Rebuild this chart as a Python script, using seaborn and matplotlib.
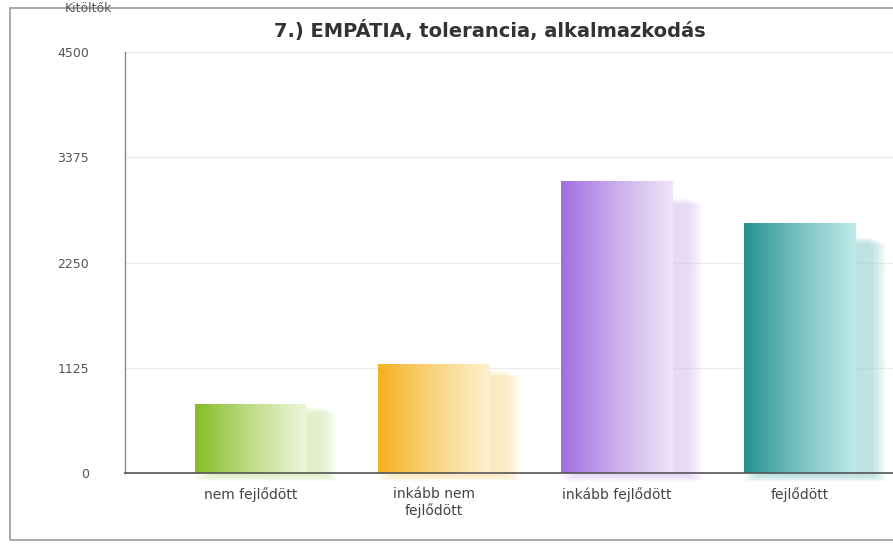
import numpy as np
import pandas as pd
import matplotlib
matplotlib.use("Agg")
import matplotlib.pyplot as plt
import matplotlib.patches as mpatches
from matplotlib.colors import LinearSegmentedColormap, to_rgb
import seaborn as sns

categories = ["nem fejlődött", "inkább nem\nfejlődött", "inkább fejlődött", "fejlődött"]
values = [740, 1165, 3120, 2670]
dark_colors = ["#86bc25", "#f4b020", "#a06ee0", "#259290"]
light_colors = ["#eef6dc", "#fdf2cf", "#efe4f8", "#bfeaea"]
yticks = [0, 1125, 2250, 3375, 4500]
title = "7.) EMPÁTIA, tolerancia, alkalmazkodás"
ylabel = "Kitöltők"

sns.set_style("white")
plt.rcParams["font.family"] = ["DejaVu Sans"]

W, H = 893, 547
fig = plt.figure(figsize=(W / 100, H / 100), dpi=100)
ax = fig.add_axes([125 / W, (H - 473) / H, (893 - 125) / W, (473 - 52) / H])

df = pd.DataFrame({"cat": categories, "val": values})
sns.barplot(data=df, x="cat", y="val", hue="cat", palette=dark_colors,
            width=0.61, legend=False, ax=ax, zorder=3, linewidth=0)

ax.set_ylim(0, 4500)
ax.set_xlim(-0.69, 3.51)
ax.set_yticks(yticks)
ax.set_yticklabels([str(t) for t in yticks])
ax.grid(axis="y", color="#ececec", linewidth=1, zorder=0)
ax.set_xlabel("")
ax.set_ylabel("")

def mix(c1, c2, t):
    a, b = np.array(to_rgb(c1)), np.array(to_rgb(c2))
    return tuple(a * (1 - t) + b * t)

bars = list(ax.patches)
for i, p in enumerate(bars):
    x0, y0 = p.get_x(), p.get_y()
    w, h = p.get_width(), p.get_height()
    cmap = LinearSegmentedColormap.from_list(
        "g", [dark_colors[i], mix(dark_colors[i], light_colors[i], 0.55), light_colors[i]])
    shadow_col = mix(dark_colors[i], light_colors[i], 0.75)
    # blurred shadow layers
    for k in range(6):
        grow = 0.015 * (5 - k)
        sh = mpatches.Rectangle((x0 + 0.085 - grow, -90 + 12 * k),
                                w + 2 * grow,
                                h * 0.94 + 90 - 12 * k - 60 * (5 - k) / 5,
                                facecolor=shadow_col, edgecolor="none",
                                alpha=0.15, zorder=2)
        sh.set_clip_on(False)
        ax.add_patch(sh)
    grad = np.linspace(0, 1, 256).reshape(1, -1)
    im = ax.imshow(grad, cmap=cmap, aspect="auto", extent=[x0, x0 + w, y0, y0 + h],
                   zorder=4, interpolation="bicubic")
    im.set_clip_path(p)

ax.set_xlim(-0.69, 3.51)
ax.set_ylim(0, 4500)

for s in ["top", "right"]:
    ax.spines[s].set_visible(False)
ax.spines["left"].set_color("#8a8a8a")
ax.spines["left"].set_linewidth(1)
ax.spines["bottom"].set_color("#555555")
ax.spines["bottom"].set_linewidth(1.2)
ax.spines["bottom"].set_zorder(5)
ax.tick_params(axis="y", length=0, pad=26, labelsize=9, labelcolor="#555555")
ax.tick_params(axis="x", length=0, pad=10, labelsize=10, labelcolor="#444444")

fig.text(490 / W, 1 - 30 / H, title, ha="center", va="center",
         fontsize=14, fontweight="bold", color="#333333")
fig.text(88 / W, 1 - 9 / H, ylabel, ha="center", va="center",
         fontsize=9, color="#555555")

border = mpatches.Rectangle((10 / W, (H - 540) / H), 1.0, (540 - 8) / H,
                            transform=fig.transFigure, fill=False,
                            edgecolor="#999999", linewidth=1.2)
fig.patches.append(border)

fig.savefig("out.png", dpi=100)
